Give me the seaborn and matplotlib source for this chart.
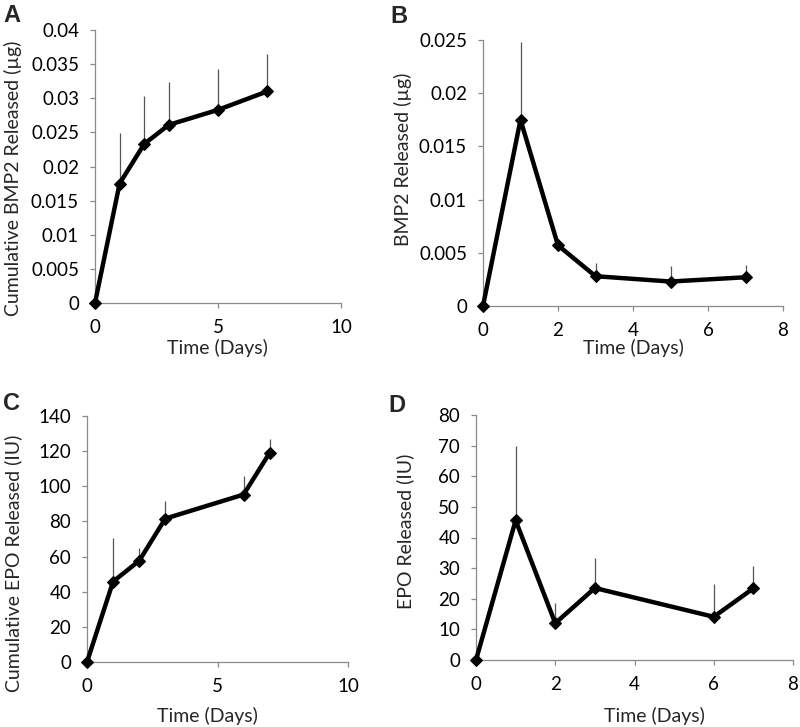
import numpy as np
import pandas as pd
import matplotlib
matplotlib.use("Agg")
import matplotlib.pyplot as plt
import seaborn as sns

# ---- data ----
days_bmp = [0, 1, 2, 3, 5, 7]
cum_bmp = [0, 0.0175, 0.0233, 0.0261, 0.0283, 0.0310]
cum_bmp_err = [0, 0.0074, 0.0071, 0.0063, 0.0060, 0.0055]
bmp = [0, 0.0175, 0.0057, 0.0028, 0.0023, 0.0027]
bmp_err = [0, 0.0073, 0, 0.00125, 0.0015, 0.00115]

days_epo = [0, 1, 2, 3, 6, 7]
cum_epo = [0, 45.8, 57.6, 81.6, 95.3, 119.1]
cum_epo_err = [0, 24.6, 7.1, 9.9, 10.8, 7.6]
epo = [0, 45.6, 12.0, 23.5, 14.1, 23.4]
epo_err = [0, 24.4, 6.7, 9.7, 10.6, 7.4]

xticks_A = [0, 5, 10]
yticks_A = [0, 0.005, 0.01, 0.015, 0.02, 0.025, 0.03, 0.035, 0.04]
xticks_B = [0, 2, 4, 6, 8]
yticks_B = [0, 0.005, 0.01, 0.015, 0.02, 0.025]
xticks_C = [0, 5, 10]
yticks_C = [0, 20, 40, 60, 80, 100, 120, 140]
xticks_D = [0, 2, 4, 6, 8]
yticks_D = [0, 10, 20, 30, 40, 50, 60, 70, 80]

panel_letters = ["A", "B", "C", "D"]
ylabels = ["Cumulative BMP2 Released (\u00b5g)", "BMP2 Released (\u00b5g)",
           "Cumulative EPO Released (IU)", "EPO Released (IU)"]
xlabel = "Time (Days)"

# ---- style ----
sns.set_style("white")
plt.rcParams["font.family"] = ["Lato", "DejaVu Sans"]
FS_TICK = 13.5
FS_LAB = 14
W, H = 800, 727
fig = plt.figure(figsize=(W / 100, H / 100), dpi=100)

def frac(px, py):
    return px / W, 1 - py / H

# pixel boxes: left, right, top, bottom
boxes = [(95, 341, 30, 303), (483, 783, 40, 306), (87, 348, 416, 662), (476, 793, 415, 660)]
ylab_pos = [(13, 178), (403, 159), (13, 563), (405, 531)]
xlab_pos = [(217, 348), (633, 348), (207, 716), (654, 716)]
letter_pos = [(3, 22), (390, 23), (3, 410), (388, 412)]

datasets = [
    (days_bmp, cum_bmp, cum_bmp_err, xticks_A, yticks_A),
    (days_bmp, bmp, bmp_err, xticks_B, yticks_B),
    (days_epo, cum_epo, cum_epo_err, xticks_C, yticks_C),
    (days_epo, epo, epo_err, xticks_D, yticks_D),
]

axis_col = "#8a8a8a"
for i, (x, y, e, xt, yt) in enumerate(datasets):
    l, r, t, b = boxes[i]
    x0, y0 = frac(l, b)
    ax = fig.add_axes([x0, y0, (r - l) / W, (b - t) / H])
    df = pd.DataFrame({"day": x, "val": y})
    ax.errorbar(x, y, yerr=[np.zeros(len(e)), e], fmt="none", ecolor="#555555",
                elinewidth=0.9, capsize=0, zorder=1, clip_on=False)
    sns.lineplot(data=df, x="day", y="val", ax=ax, color="black", lw=3.2,
                 marker="D", markersize=6, markeredgecolor="black",
                 zorder=3, clip_on=False, errorbar=None)
    ax.set_xlim(xt[0], xt[-1])
    ax.set_ylim(yt[0], yt[-1])
    ax.set_xticks(xt)
    ax.set_yticks(yt)
    ax.set_xticklabels(["{:g}".format(v) for v in xt])
    ax.set_yticklabels(["{:g}".format(v) for v in yt])
    for s in ["top", "right"]:
        ax.spines[s].set_visible(False)
    for s in ["left", "bottom"]:
        ax.spines[s].set_color(axis_col)
        ax.spines[s].set_linewidth(0.9)
    ax.tick_params(axis="both", direction="out", length=3.5, width=0.9,
                   color=axis_col, labelsize=FS_TICK, labelcolor="black", pad=8,
                   bottom=True, left=True)
    ax.grid(False)
    ax.set_xlabel(xlabel, fontsize=FS_LAB)
    ax.set_ylabel(ylabels[i], fontsize=FS_LAB)
    ax.xaxis.label.set_verticalalignment("center")
    ax.yaxis.label.set_verticalalignment("center")
    ax.xaxis.set_label_coords(*frac(*xlab_pos[i]), transform=fig.transFigure)
    ax.yaxis.set_label_coords(*frac(*ylab_pos[i]), transform=fig.transFigure)
    fig.text(*frac(*letter_pos[i]), panel_letters[i], fontsize=17, fontweight="bold",
             family=["Liberation Sans", "DejaVu Sans"], ha="left", va="baseline")

fig.savefig("out.png", dpi=100, facecolor="white")
